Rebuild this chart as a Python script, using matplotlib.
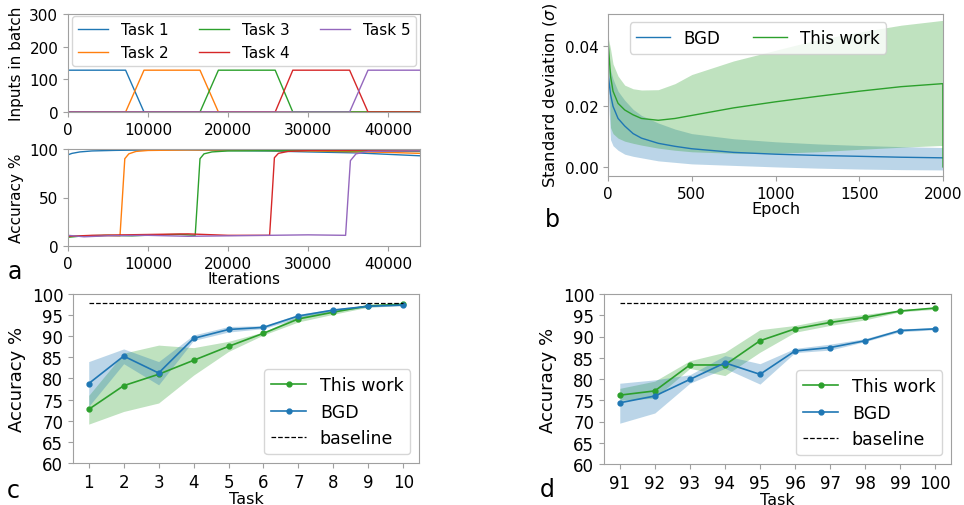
import numpy as np
import matplotlib
matplotlib.use('Agg')
import matplotlib.pyplot as plt

W, H = 964, 506

# ---- panel a: inputs in batch per task ----
batch_x = [0, 7200, 9500, 16500, 18800, 25900, 28100, 35200, 37500, 44000]
batch_tasks = {
    'Task 1': [128, 128, 0, 0, 0, 0, 0, 0, 0, 0],
    'Task 2': [0, 0, 128, 128, 0, 0, 0, 0, 0, 0],
    'Task 3': [0, 0, 0, 0, 128, 128, 0, 0, 0, 0],
    'Task 4': [0, 0, 0, 0, 0, 0, 128, 128, 0, 0],
    'Task 5': [0, 0, 0, 0, 0, 0, 0, 0, 128, 128],
}

# ---- panel a: accuracy per task over iterations ----
acc_curves = {
    'Task 1': ([0, 500, 1500, 3000, 6000, 10000, 15000, 20000, 25000, 30000, 36000, 40000, 44000],
               [94, 95.5, 97, 98, 98.6, 99, 99, 98.5, 98, 97, 96, 94.5, 93]),
    'Task 2': ([0, 1500, 3000, 4500, 6500, 6800, 7100, 7600, 8500, 10000, 15000, 20000, 30000, 40000, 44000],
               [10, 10.5, 10, 10.8, 10.5, 50, 90, 95, 97.5, 98.5, 99, 99, 98, 96.5, 95.5]),
    'Task 3': ([0, 2000, 5000, 8000, 11000, 14000, 15900, 16200, 16500, 17000, 18000, 20000, 30000, 44000],
               [9, 10.5, 11, 10.5, 11.5, 12, 11, 50, 90, 95, 97, 98, 98.5, 97.5]),
    'Task 4': ([0, 3000, 7000, 11000, 15000, 20000, 25200, 25500, 25800, 26300, 27500, 30000, 44000],
               [10, 11, 11.5, 12, 12.5, 11, 11, 50, 91, 95.5, 97.5, 98.5, 99]),
    'Task 5': ([0, 2000, 5000, 10000, 15000, 20000, 25000, 30000, 34700, 35000, 35300, 36000, 37500, 44000],
               [11, 9.5, 10.5, 11, 10, 10.5, 11, 11.5, 11, 50, 88, 95, 97.5, 98]),
}

# ---- panel b: standard deviation over epochs ----
epoch = [0, 15, 30, 60, 100, 150, 200, 300, 400, 500, 750, 1000, 1250, 1500, 1750, 1999]
bgd_mean = [0.031, 0.024, 0.020, 0.016, 0.0135, 0.011, 0.0095, 0.0078, 0.0068, 0.006, 0.0048, 0.0042, 0.0038, 0.0035, 0.0032, 0.003]
bgd_lo = [0.026, 0.009, 0.007, 0.0055, 0.0042, 0.0035, 0.003, 0.002, 0.0015, 0.001, 0.0005, 0.0, -0.0004, -0.0007, -0.0009, -0.001]
bgd_hi = [0.034, 0.032, 0.029, 0.025, 0.022, 0.019, 0.017, 0.0145, 0.0125, 0.011, 0.0093, 0.0083, 0.0076, 0.0071, 0.0067, 0.0064]
tw_mean = [0.042, 0.03, 0.025, 0.021, 0.0188, 0.0172, 0.016, 0.0154, 0.016, 0.017, 0.0195, 0.0215, 0.0233, 0.025, 0.0265, 0.0275]
tw_lo = [0.040, 0.013, 0.011, 0.0095, 0.0085, 0.0078, 0.0072, 0.0062, 0.0055, 0.005, 0.0045, 0.0045, 0.005, 0.0058, 0.0065, 0.0071]
tw_hi = [0.043, 0.039, 0.034, 0.030, 0.027, 0.0258, 0.0254, 0.0255, 0.0275, 0.0305, 0.035, 0.0385, 0.042, 0.0445, 0.0468, 0.0484]

# ---- panel c: tasks 1-10 ----
task_c = [1, 2, 3, 4, 5, 6, 7, 8, 9, 10]
tw_c = [72.7, 78.3, 81.0, 84.3, 87.6, 90.7, 94.1, 95.7, 97.2, 97.6]
tw_c_lo = [69.2, 72.2, 74.2, 80.8, 86.4, 90.3, 93.4, 95.2, 96.9, 97.3]
tw_c_hi = [76.0, 86.0, 87.9, 87.3, 88.8, 91.0, 94.8, 96.3, 97.4, 97.9]
bgd_c = [78.8, 85.3, 81.3, 89.5, 91.6, 92.1, 94.8, 96.2, 97.1, 97.4]
bgd_c_lo = [73.4, 83.5, 78.5, 89.0, 91.0, 91.8, 94.3, 95.9, 96.9, 97.2]
bgd_c_hi = [84.0, 87.0, 84.0, 90.3, 92.3, 92.5, 95.2, 96.5, 97.4, 97.7]
baseline_c = 97.9

# ---- panel d: tasks 91-100 ----
task_d = [91, 92, 93, 94, 95, 96, 97, 98, 99, 100]
tw_d = [76.2, 77.2, 83.3, 83.3, 89.0, 91.8, 93.3, 94.5, 96.0, 96.7]
tw_d_lo = [75.0, 75.5, 82.5, 80.8, 86.3, 91.0, 92.6, 93.9, 95.8, 96.4]
tw_d_hi = [77.8, 79.5, 84.3, 86.3, 91.6, 92.6, 94.2, 95.2, 96.3, 96.9]
bgd_d = [74.4, 76.0, 79.9, 83.8, 81.1, 86.6, 87.4, 89.0, 91.4, 91.8]
bgd_d_lo = [69.6, 72.0, 79.0, 82.5, 78.8, 86.2, 86.8, 88.8, 91.1, 91.6]
bgd_d_hi = [79.0, 79.8, 81.0, 85.5, 83.6, 87.2, 88.2, 89.5, 91.8, 92.1]
baseline_d = 97.9

BLUE = '#1f77b4'
GREEN = '#2ca02c'
TASK_COLORS = ['#1f77b4', '#ff7f0e', '#2ca02c', '#d62728', '#9467bd']
SPINE = '#a0a0a0'

plt.rcParams['font.family'] = 'DejaVu Sans'
plt.rcParams['font.size'] = 11


def add_ax(left, top, right, bottom, tick_size=11):
    ax = plt.gcf().add_axes([left / W, 1 - bottom / H, (right - left) / W, (bottom - top) / H])
    for s in ax.spines.values():
        s.set_color(SPINE)
    ax.tick_params(color=SPINE, labelsize=tick_size)
    return ax


fig = plt.figure(figsize=(W / 100, H / 100), dpi=100)

# a top
ax = add_ax(68, 15, 420, 113)
for (name, vals), c in zip(batch_tasks.items(), TASK_COLORS):
    ax.plot(batch_x, vals, color=c, lw=1, label=name)
ax.set_xlim(0, 44000)
ax.set_ylim(0, 300)
ax.set_xticks([0, 10000, 20000, 30000, 40000])
ax.set_ylabel('Inputs in batch', fontsize=11)
ax.legend(ncol=3, loc='upper center', fontsize=11, borderaxespad=0.15)

# a bottom
ax = add_ax(68, 150, 420, 247)
for (name, (xs, ys)), c in zip(acc_curves.items(), TASK_COLORS):
    ax.plot(xs, ys, color=c, lw=1)
ax.set_xlim(0, 44000)
ax.set_ylim(0, 100)
ax.set_xticks([0, 10000, 20000, 30000, 40000])
ax.set_ylabel('Accuracy %', fontsize=11)
ax.set_xlabel('Iterations', fontsize=11, labelpad=0)

# b
ax = add_ax(608, 15, 943, 177)
ax.fill_between(epoch, bgd_lo, bgd_hi, color=BLUE, alpha=0.3, lw=0)
ax.fill_between(epoch, tw_lo, tw_hi, color=GREEN, alpha=0.3, lw=0)
ax.plot(epoch, bgd_mean, color=BLUE, lw=1, label='BGD')
ax.plot(epoch + [2000], tw_mean + [0.0], color=GREEN, lw=1, label='This work')
ax.set_xlim(0, 2000)
ax.set_ylim(-0.003, 0.0505)
ax.set_yticks([0.0, 0.02, 0.04])
ax.set_yticklabels(['0.00', '0.02', '0.04'])
ax.set_ylabel('Standard deviation ($\\sigma$)', fontsize=11.8)
ax.set_xlabel('Epoch', fontsize=11.5, labelpad=0)
ax.legend(ncol=2, loc='upper center', fontsize=12, bbox_to_anchor=(0.448, 1.0))


def task_panel(ax, tasks, tw, tw_lo, tw_hi, bgd, bgd_lo, bgd_hi, base):
    ax.fill_between(tasks, tw_lo, tw_hi, color=GREEN, alpha=0.3, lw=0)
    ax.fill_between(tasks, bgd_lo, bgd_hi, color=BLUE, alpha=0.3, lw=0)
    ax.plot(tasks, tw, color=GREEN, lw=1.2, marker='o', ms=3.5, label='This work')
    ax.plot(tasks, bgd, color=BLUE, lw=1.2, marker='o', ms=3.5, label='BGD')
    ax.plot([tasks[0], tasks[-1]], [base, base], 'k--', lw=0.9, label='baseline')
    ax.set_ylim(60, 100)
    ax.set_yticks(range(60, 101, 5))
    ax.set_xticks(tasks)
    ax.set_ylabel('Accuracy %', fontsize=13)
    ax.set_xlabel('Task', fontsize=11.5, labelpad=0)
    ax.legend(loc='lower right', fontsize=12.5)


ax = add_ax(73, 295, 419, 464, tick_size=12)
task_panel(ax, task_c, tw_c, tw_c_lo, tw_c_hi, bgd_c, bgd_c_lo, bgd_c_hi, baseline_c)
ax = add_ax(604, 295, 951, 465, tick_size=12)
task_panel(ax, task_d, tw_d, tw_d_lo, tw_d_hi, bgd_d, bgd_d_lo, bgd_d_hi, baseline_d)

# panel letters
for letter, (px, py) in zip('abcd', [(8, 279), (545, 227), (7, 498), (540, 497)]):
    fig.text(px / W, 1 - py / H, letter, fontsize=17, ha='left', va='baseline')

fig.savefig('out.png', dpi=100)
